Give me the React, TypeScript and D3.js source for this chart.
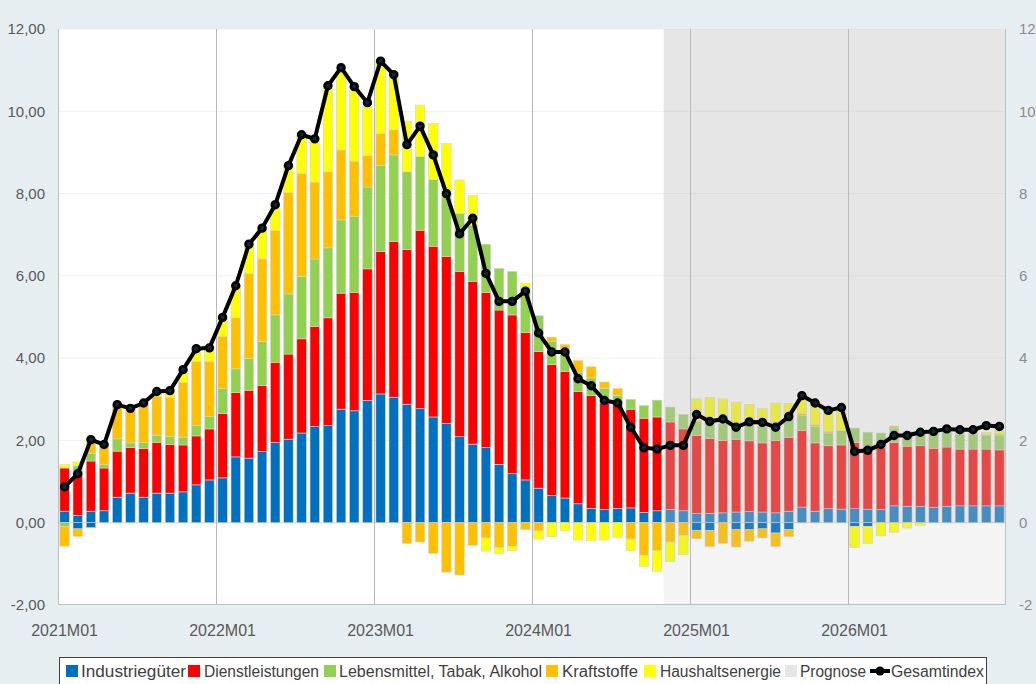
import * as d3 from "d3";

// months 2021M01 .. 2026M12
const years = [2021, 2022, 2023, 2024, 2025, 2026];
const months = years.flatMap((yr) =>
  d3.range(1, 13).map((mo) => `${yr}M${String(mo).padStart(2, "0")}`)
);
const tickMonths = ["2021M01", "2022M01", "2023M01", "2024M01", "2025M01", "2026M01"];
const forecastStart = "2024M11";

// contributions in percentage points
const industrie = [
  0.28, 0.18, 0.28, 0.29, 0.62, 0.72, 0.62, 0.72, 0.72, 0.75, 0.92, 1.04,
  1.09, 1.6, 1.57, 1.73, 1.95, 2.03, 2.18, 2.34, 2.36, 2.76, 2.72, 2.97,
  3.13, 3.05, 2.88, 2.77, 2.57, 2.41, 2.09, 1.91, 1.83, 1.42, 1.19, 1.04,
  0.84, 0.66, 0.6, 0.46, 0.35, 0.32, 0.35, 0.36, 0.25, 0.29, 0.32, 0.29,
  0.22, 0.23, 0.24, 0.26, 0.27, 0.26, 0.24, 0.28, 0.38, 0.28, 0.34, 0.33,
  0.34, 0.33, 0.32, 0.41, 0.4, 0.4, 0.37, 0.4, 0.41, 0.41, 0.41, 0.41,
];
// second (negative) Industriegüter part, same colour, no legend entry
const industrieNeg = [
  0, -0.15, -0.12, 0, 0, 0, 0, 0, 0, 0, 0, 0,
  0, 0, 0, 0, 0, 0, 0, 0, 0, 0, 0, 0,
  0, 0, 0, 0, 0, 0, 0, 0, 0, 0, 0, 0,
  0, 0, 0, 0, 0, 0, 0, 0, 0, 0, 0, 0,
  -0.19, -0.19, 0, -0.17, -0.17, -0.15, -0.25, -0.17, 0, 0, 0, 0,
  -0.09, -0.09, 0, 0, 0, 0, 0, 0, 0, 0, 0, 0,
];
const dienst = [
  1.05, 1.01, 1.22, 1.04, 1.12, 1.11, 1.18, 1.23, 1.18, 1.14, 1.19, 1.24,
  1.56, 1.56, 1.65, 1.6, 1.95, 2.07, 2.29, 2.43, 2.62, 2.82, 2.88, 3.2,
  3.46, 3.79, 3.76, 4.34, 4.15, 4.06, 4.02, 3.96, 3.77, 3.75, 3.86, 3.58,
  3.32, 3.18, 3.08, 2.73, 2.74, 2.59, 2.6, 2.4, 2.29, 2.28, 2.13, 1.99,
  1.9, 1.82, 1.76, 1.77, 1.72, 1.68, 1.76, 1.79, 1.86, 1.66, 1.53, 1.56,
  1.61, 1.51, 1.5, 1.54, 1.46, 1.47, 1.44, 1.44, 1.38, 1.38, 1.38, 1.36,
];
const lebensmittel = [
  -0.1, 0.19, 0.19, 0.08, 0.3, 0.11, 0.15, 0.18, 0.19, 0.19, 0.25, 0.3,
  0.61, 0.58, 0.77, 1.07, 1.15, 1.46, 1.52, 1.64, 1.7, 1.78, 1.85, 1.99,
  2.09, 2.1, 1.89, 1.79, 1.62, 1.53, 1.41, 1.36, 1.17, 1.01, 1.06, 1.06,
  0.87, 0.57, 0.51, 0.47, 0.43, 0.36, 0.15, 0.24, 0.31, 0.41, 0.36, 0.35,
  0.35, 0.34, 0.41, 0.36, 0.4, 0.4, 0.4, 0.45, 0.36, 0.4, 0.31, 0.35,
  0.35, 0.36, 0.36, 0.35, 0.35, 0.35, 0.36, 0.38, 0.35, 0.36, 0.34, 0.36,
];
const kraftstoffe = [
  -0.47, -0.18, 0.26, 0.49, 0.79, 0.81, 0.93, 0.94, 0.95, 1.33, 1.56, 1.34,
  1.27, 1.24, 2.07, 2.01, 2.05, 2.46, 2.5, 1.87, 1.85, 1.7, 1.34, 0.77,
  0.78, 0.61, -0.5, -0.47, -0.75, -1.2, -1.27, -0.55, -0.37, -0.6, -0.57, -0.17,
  -0.2, 0.1, 0.14, 0.28, 0.27, 0.15, 0.16, -0.4, -0.79, -0.68, -0.47, -0.31,
  -0.2, -0.39, -0.5, -0.42, -0.28, -0.22, -0.33, -0.17, 0.05, 0.04, 0.04, 0,
  0, 0, 0, 0.05, 0, 0, 0, 0.02, 0.02, 0.02, 0.02, 0.03,
];
const haushalt = [
  0.08, 0.1, 0, 0, 0.04, 0, 0, 0.08, 0.1, 0.23, 0.28, 0.35,
  0.45, 0.79, 0.72, 0.75, 0.62, 0.66, 1.0, 1.08, 2.12, 1.94, 1.81, 1.19,
  1.77, 1.39, 1.22, 1.25, 1.36, 1.22, 0.81, 0.72, -0.32, -0.15, -0.11, 0.14,
  -0.2, -0.34, -0.2, -0.42, -0.44, -0.42, -0.36, -0.28, -0.27, -0.5, -0.47, -0.47,
  0.54, 0.65, 0.6, 0.54, 0.48, 0.43, 0.51, 0.38, 0.4, 0.53, 0.52, 0.54,
  -0.51, -0.41, -0.32, -0.23, -0.13, -0.06, 0, 0.03, 0.04, 0.05, 0.05, 0.08,
];
const gesamt = [
  0.87, 1.19, 2.02, 1.9, 2.87, 2.78, 2.91, 3.19, 3.21, 3.72, 4.23, 4.25,
  4.99, 5.76, 6.77, 7.16, 7.73, 8.68, 9.43, 9.33, 10.62, 11.06, 10.6, 10.21,
  11.22, 10.89, 9.19, 9.64, 8.94, 8.0, 7.02, 7.4, 6.06, 5.38, 5.38, 5.63,
  4.61, 4.15, 4.15, 3.5, 3.33, 2.97, 2.91, 2.32, 1.82, 1.79, 1.88, 1.88,
  2.63, 2.46, 2.52, 2.32, 2.45, 2.44, 2.32, 2.58, 3.09, 2.91, 2.73, 2.8,
  1.73, 1.76, 1.9, 2.12, 2.12, 2.2, 2.22, 2.28, 2.26, 2.26, 2.36, 2.34,
];

const keys = ["ind", "indNeg", "dienst", "leb", "kraft", "haus"];
const colors: Record<string, string> = {
  ind: "#0070c0",
  indNeg: "#0070c0",
  dienst: "#ff0000",
  leb: "#92d050",
  kraft: "#ffc000",
  haus: "#ffff00",
};

const legendItems = [
  { label: "Industriegüter", color: "#0070c0", kind: "box" },
  { label: "Dienstleistungen", color: "#ff0000", kind: "box" },
  { label: "Lebensmittel, Tabak, Alkohol", color: "#92d050", kind: "box" },
  { label: "Kraftstoffe", color: "#ffc000", kind: "box" },
  { label: "Haushaltsenergie", color: "#ffff00", kind: "box" },
  { label: "Prognose", color: "#e6e6e6", kind: "box" },
  { label: "Gesamtindex", color: "#000", kind: "line" },
];
// legend layout (x of marker, x of text, text width)
const legendLayout = [
  [66, 81, 105],
  [188, 204, 115],
  [324, 339, 203],
  [546, 562, 76],
  [644, 660, 121],
  [785, 800, 66],
  [870, 891, 93],
];

const FONT = "'Liberation Sans Narrow', 'Liberation Sans', Arial, sans-serif";

export default function App() {
  const W = 1036;
  const H = 684;
  const plot = { left: 58, right: 1006, top: 29, bottom: 605 };

  const x = d3
    .scaleBand<string>()
    .domain(months)
    .range([plot.left, plot.right])
    .paddingInner(0.28)
    .paddingOuter(0.14);
  const y = d3.scaleLinear().domain([-2, 12]).range([plot.bottom, plot.top]);

  const rows = months.map((m, i) => ({
    month: m,
    ind: industrie[i],
    indNeg: industrieNeg[i],
    dienst: dienst[i],
    leb: lebensmittel[i],
    kraft: kraftstoffe[i],
    haus: haushalt[i],
  }));
  const stacked = d3
    .stack<any>()
    .keys(keys)
    .offset(d3.stackOffsetDiverging)(rows);

  const cx = (i: number) => x(months[i])! + x.bandwidth() / 2;
  const line = d3
    .line<number>()
    .x((_, i) => cx(i))
    .y((d) => y(d));

  const yTicks = y.ticks(7);
  const fmtLeft = (v: number) => d3.format(".2f")(v).replace(".", ",").replace("−", "-");
  const fmtRight = (v: number) => d3.format("d")(v).replace("−", "-");

  const step = x.step();
  const fx = x(forecastStart)! - (step - x.bandwidth()) / 2;

  return (
    <div style={{ position: "absolute", left: 0, top: 0 }}>
      <svg width={W} height={H} style={{ display: "block" }}>
        <rect x={0} y={0} width={W} height={H} fill="#e7eef1" />
        <rect
          x={plot.left}
          y={plot.top}
          width={plot.right - plot.left}
          height={plot.bottom - plot.top}
          fill="#fff"
        />

        {/* horizontal gridlines */}
        {yTicks.map((t) => (
          <line
            key={t}
            x1={plot.left}
            x2={plot.right}
            y1={y(t)}
            y2={y(t)}
            stroke={t === 0 ? "#d9d9d9" : "#efefef"}
            strokeWidth={1}
          />
        ))}

        {/* vertical year lines */}
        {tickMonths.slice(1).map((m) => (
          <line
            key={m}
            x1={Math.round(x(m)! - (step - x.bandwidth()) / 2) + 0.5}
            x2={Math.round(x(m)! - (step - x.bandwidth()) / 2) + 0.5}
            y1={plot.top}
            y2={plot.bottom}
            stroke="#b8b8b8"
          />
        ))}

        {/* stacked bars */}
        {stacked.map((s) => (
          <g key={s.key} fill={colors[s.key]}>
            {s.map((d, i) =>
              d[1] - d[0] === 0 ? null : (
                <rect
                  key={i}
                  x={x(months[i])}
                  width={x.bandwidth()}
                  y={y(Math.max(d[0], d[1]))}
                  height={Math.abs(y(d[0]) - y(d[1]))}
                  stroke="#d4d4d4"
                  strokeWidth={0.6}
                />
              )
            )}
          </g>
        ))}

        {/* Prognose overlay */}
        <rect
          x={fx}
          y={y(12)}
          width={plot.right - fx}
          height={y(0) - y(12)}
          fill="rgb(188,188,188)"
          fillOpacity={0.376}
        />
        <rect
          x={fx}
          y={y(0)}
          width={plot.right - fx}
          height={y(-2) - y(0)}
          fill="rgb(188,188,188)"
          fillOpacity={0.165}
        />

        {/* plot frame */}
        <line x1={plot.left + 0.5} x2={plot.left + 0.5} y1={plot.top} y2={plot.bottom} stroke="#bfbfbf" />
        <line x1={plot.right - 0.5} x2={plot.right - 0.5} y1={plot.top} y2={plot.bottom} stroke="#bfbfbf" />
        <line x1={plot.left} x2={plot.right} y1={plot.bottom - 0.5} y2={plot.bottom - 0.5} stroke="#bfbfbf" />

        {/* Gesamtindex */}
        <path d={line(gesamt)!} fill="none" stroke="#000" strokeWidth={4} strokeLinejoin="round" />
        {gesamt.map((v, i) => (
          <circle key={i} cx={cx(i)} cy={y(v)} r={3.4} fill="#0d2b36" stroke="#000" strokeWidth={2.6} />
        ))}

        {/* left axis */}
        {yTicks.map((t) => (
          <text
            key={"l" + t}
            x={45}
            y={y(t)}
            dy="0.35em"
            textAnchor="end"
            fontFamily={FONT}
            fontSize={15}
            fill="#595959"
          >
            {fmtLeft(t)}
          </text>
        ))}
        {/* right axis */}
        {yTicks.map((t) => (
          <text
            key={"r" + t}
            x={1019}
            y={y(t)}
            dy="0.35em"
            textAnchor="start"
            fontFamily={FONT}
            fontSize={15}
            fill="#8c8c8c"
          >
            {fmtRight(t)}
          </text>
        ))}
        {/* bottom axis */}
        {tickMonths.map((m) => (
          <text
            key={m}
            x={x(m)! + x.bandwidth() / 2}
            y={630}
            dy="0.35em"
            textAnchor="middle"
            fontFamily={FONT}
            fontSize={16}
            fill="#595959"
          >
            {m}
          </text>
        ))}

        {/* legend */}
        <rect x={59.5} y={657.5} width={927} height={40} fill="#fff" stroke="#404040" strokeWidth={1} />
        {legendItems.map((it, i) => {
          const [mx, tx, tw] = legendLayout[i];
          return (
            <g key={it.label}>
              {it.kind === "box" ? (
                <rect x={mx} y={665} width={12} height={12} fill={it.color} />
              ) : (
                <g>
                  <line x1={mx} x2={mx + 20} y1={671} y2={671} stroke="#000" strokeWidth={4} />
                  <circle cx={mx + 10} cy={671} r={4.5} fill="#000" />
                </g>
              )}
              <text
                x={tx}
                y={671}
                dy="0.36em"
                fontFamily={FONT}
                fontSize={16}
                fill="#404040"
                textLength={tw}
                lengthAdjust="spacingAndGlyphs"
              >
                {it.label}
              </text>
            </g>
          );
        })}
      </svg>
    </div>
  );
}
